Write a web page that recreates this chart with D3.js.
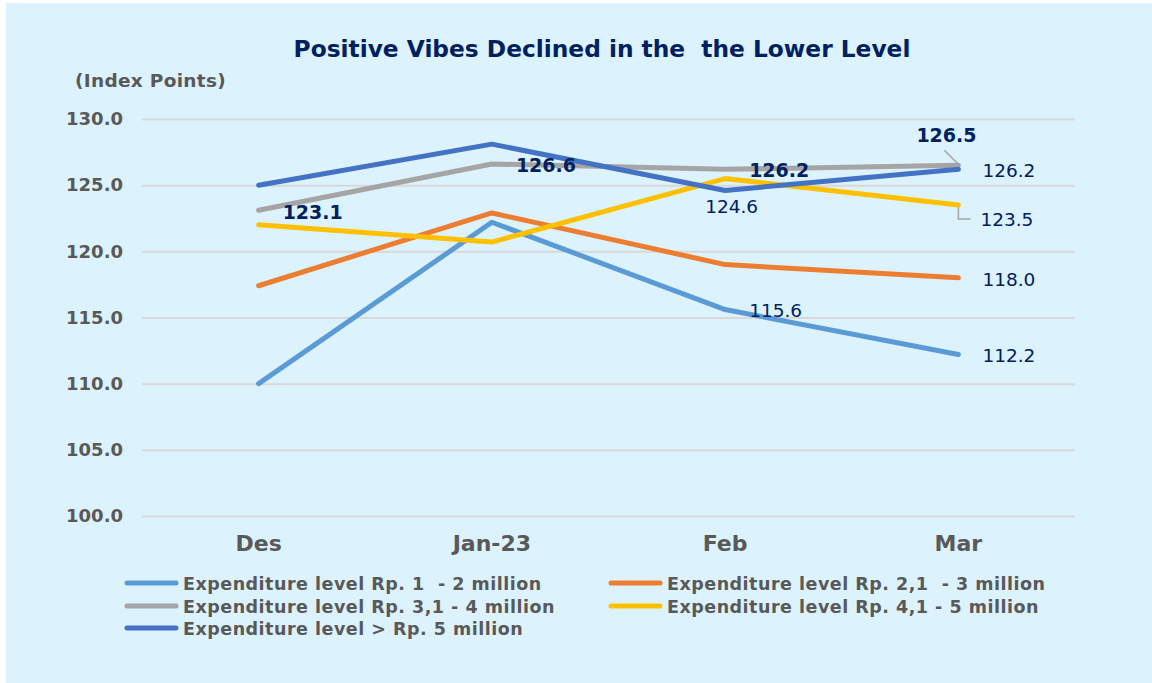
<!DOCTYPE html>
<html>
<head>
<meta charset="utf-8">
<script src="https://cdn.jsdelivr.net/npm/d3@7"></script>
<style>
  body { margin: 0; background: #ffffff; }
  svg { display: block; }
  text { white-space: pre; }
</style>
</head>
<body>
<div id="chart"></div>
<script>
'use strict';

// categorias e séries
var months = ['Des', 'Jan-23', 'Feb', 'Mar'];
var yTicks = [100, 105, 110, 115, 120, 125, 130];

var seriesNames = [
  'Expenditure level Rp. 1  - 2 million',
  'Expenditure level Rp. 2,1  - 3 million',
  'Expenditure level Rp. 3,1 - 4 million',
  'Expenditure level Rp. 4,1 - 5 million',
  'Expenditure level > Rp. 5 million'
];
var level1 = [110.0, 122.2, 115.6, 112.2];
var level2 = [117.4, 122.9, 119.0, 118.0];
var level3 = [123.1, 126.6, 126.2, 126.5];
var level4 = [122.0, 120.7, 125.5, 123.5];
var level5 = [125.0, 128.1, 124.6, 126.2];
var seriesColors = ['#5B9BD5', '#ED7D31', '#A5A5A5', '#FFC000', '#4472C4'];

var W = 1152, H = 683;
var plot = {left: 142, right: 1075, top: 119, bottom: 516};
var font = 'DejaVu Sans, Verdana, sans-serif';

var svg = d3.select('#chart').append('svg')
  .attr('width', W)
  .attr('height', H);

// fundo
svg.append('rect')
  .attr('x', 6).attr('y', 3)
  .attr('width', W - 6).attr('height', H - 3)
  .attr('fill', '#DCF2FC');

var x = d3.scaleBand().domain(months).range([plot.left, plot.right]);
var y = d3.scaleLinear().domain([100, 130]).range([plot.bottom, plot.top]);
var cx = function(m) { return x(m) + x.bandwidth() / 2; };

// título
svg.append('text')
  .attr('x', 602).attr('y', 57)
  .attr('text-anchor', 'middle')
  .style('font-family', font)
  .style('font-weight', 'bold')
  .style('font-size', '23.3px')
  .attr('fill', '#002060')
  .text('Positive Vibes Declined in the  the Lower Level');

svg.append('text')
  .attr('x', 75).attr('y', 87)
  .style('font-family', font)
  .style('font-weight', 'bold')
  .style('font-size', '18.5px')
  .style('letter-spacing', '0.3px')
  .attr('fill', '#595959')
  .text('(Index Points)');

// grade e eixo y
var yAxis = d3.axisLeft(y)
  .tickValues(yTicks)
  .tickFormat(d3.format('.1f'))
  .tickSize(-(plot.right - plot.left))
  .tickPadding(19);

var yG = svg.append('g')
  .attr('transform', 'translate(' + plot.left + ',0)')
  .call(yAxis);
yG.select('.domain').remove();
yG.selectAll('line').attr('stroke', '#D9D9D9').attr('stroke-width', 2);
yG.selectAll('text')
  .style('font-family', font)
  .style('font-weight', 'bold')
  .style('font-size', '18px')
  .attr('fill', '#595959');

// eixo x
var xAxis = d3.axisBottom(x).tickSize(0).tickPadding(19);
var xG = svg.append('g')
  .attr('transform', 'translate(0,' + plot.bottom + ')')
  .call(xAxis);
xG.select('.domain').remove();
xG.selectAll('text')
  .style('font-family', font)
  .style('font-weight', 'bold')
  .style('font-size', '22px')
  .attr('fill', '#595959');

// linhas
var allSeries = [level1, level2, level3, level4, level5];
var line = d3.line()
  .x(function(d, i) { return cx(months[i]); })
  .y(function(d) { return y(d); });

svg.append('g').selectAll('path')
  .data(allSeries)
  .enter()
  .append('path')
  .attr('d', line)
  .attr('fill', 'none')
  .attr('stroke', function(d, i) { return seriesColors[i]; })
  .attr('stroke-width', 5)
  .attr('stroke-linecap', 'round')
  .attr('stroke-linejoin', 'round');

// rótulos de dados: [série, índice, dx, dy, negrito]
var labels = [
  [2, 0, 24, 9, true],
  [2, 1, 24, 8, true],
  [2, 2, 24, 8, true],
  [2, 3, -42, -23, true],
  [0, 2, 24, 7.5, false],
  [4, 2, -20, 22.5, false],
  [0, 3, 24, 7.5, false],
  [1, 3, 24, 8, false],
  [4, 3, 24, 8, false],
  [3, 3, 22, 21, false]
];

svg.append('g').selectAll('text')
  .data(labels)
  .enter()
  .append('text')
  .attr('x', function(d) { return cx(months[d[1]]) + d[2]; })
  .attr('y', function(d) { return y(allSeries[d[0]][d[1]]) + d[3]; })
  .style('font-family', font)
  .style('font-weight', function(d) { return d[4] ? 'bold' : 'normal'; })
  .style('font-size', function(d) { return d[4] ? '19px' : '18.5px'; })
  .attr('fill', '#002060')
  .text(function(d) { return d3.format('.1f')(allSeries[d[0]][d[1]]); });

// linhas de chamada
var mx = cx('Mar');
svg.append('path')
  .attr('d', 'M' + (mx - 14) + ',' + (y(level3[3]) - 15) + 'L' + (mx - 1) + ',' + (y(level3[3]) - 2))
  .attr('fill', 'none').attr('stroke', '#A5A5A5').attr('stroke-width', 1.5);
svg.append('path')
  .attr('d', 'M' + mx + ',' + (y(level4[3]) + 2) + 'V' + (y(level4[3]) + 14) + 'H' + (mx + 12))
  .attr('fill', 'none').attr('stroke', '#A5A5A5').attr('stroke-width', 1.5);

// legenda
var legendPos = [[125, 583], [609, 583], [125, 606], [609, 606], [125, 628]];
var lg = svg.append('g').selectAll('g')
  .data(seriesNames)
  .enter()
  .append('g')
  .attr('transform', function(d, i) { return 'translate(' + legendPos[i][0] + ',' + legendPos[i][1] + ')'; });

lg.append('line')
  .attr('x1', 2).attr('x2', 51)
  .attr('stroke', function(d, i) { return seriesColors[i]; })
  .attr('stroke-width', 5)
  .attr('stroke-linecap', 'round');

lg.append('text')
  .attr('x', 58).attr('y', 6.5)
  .style('font-family', font)
  .style('font-weight', 'bold')
  .style('font-size', '17.5px')
  .style('letter-spacing', '0.5px')
  .attr('fill', '#595959')
  .text(function(d) { return d; });
</script>
</body>
</html>
